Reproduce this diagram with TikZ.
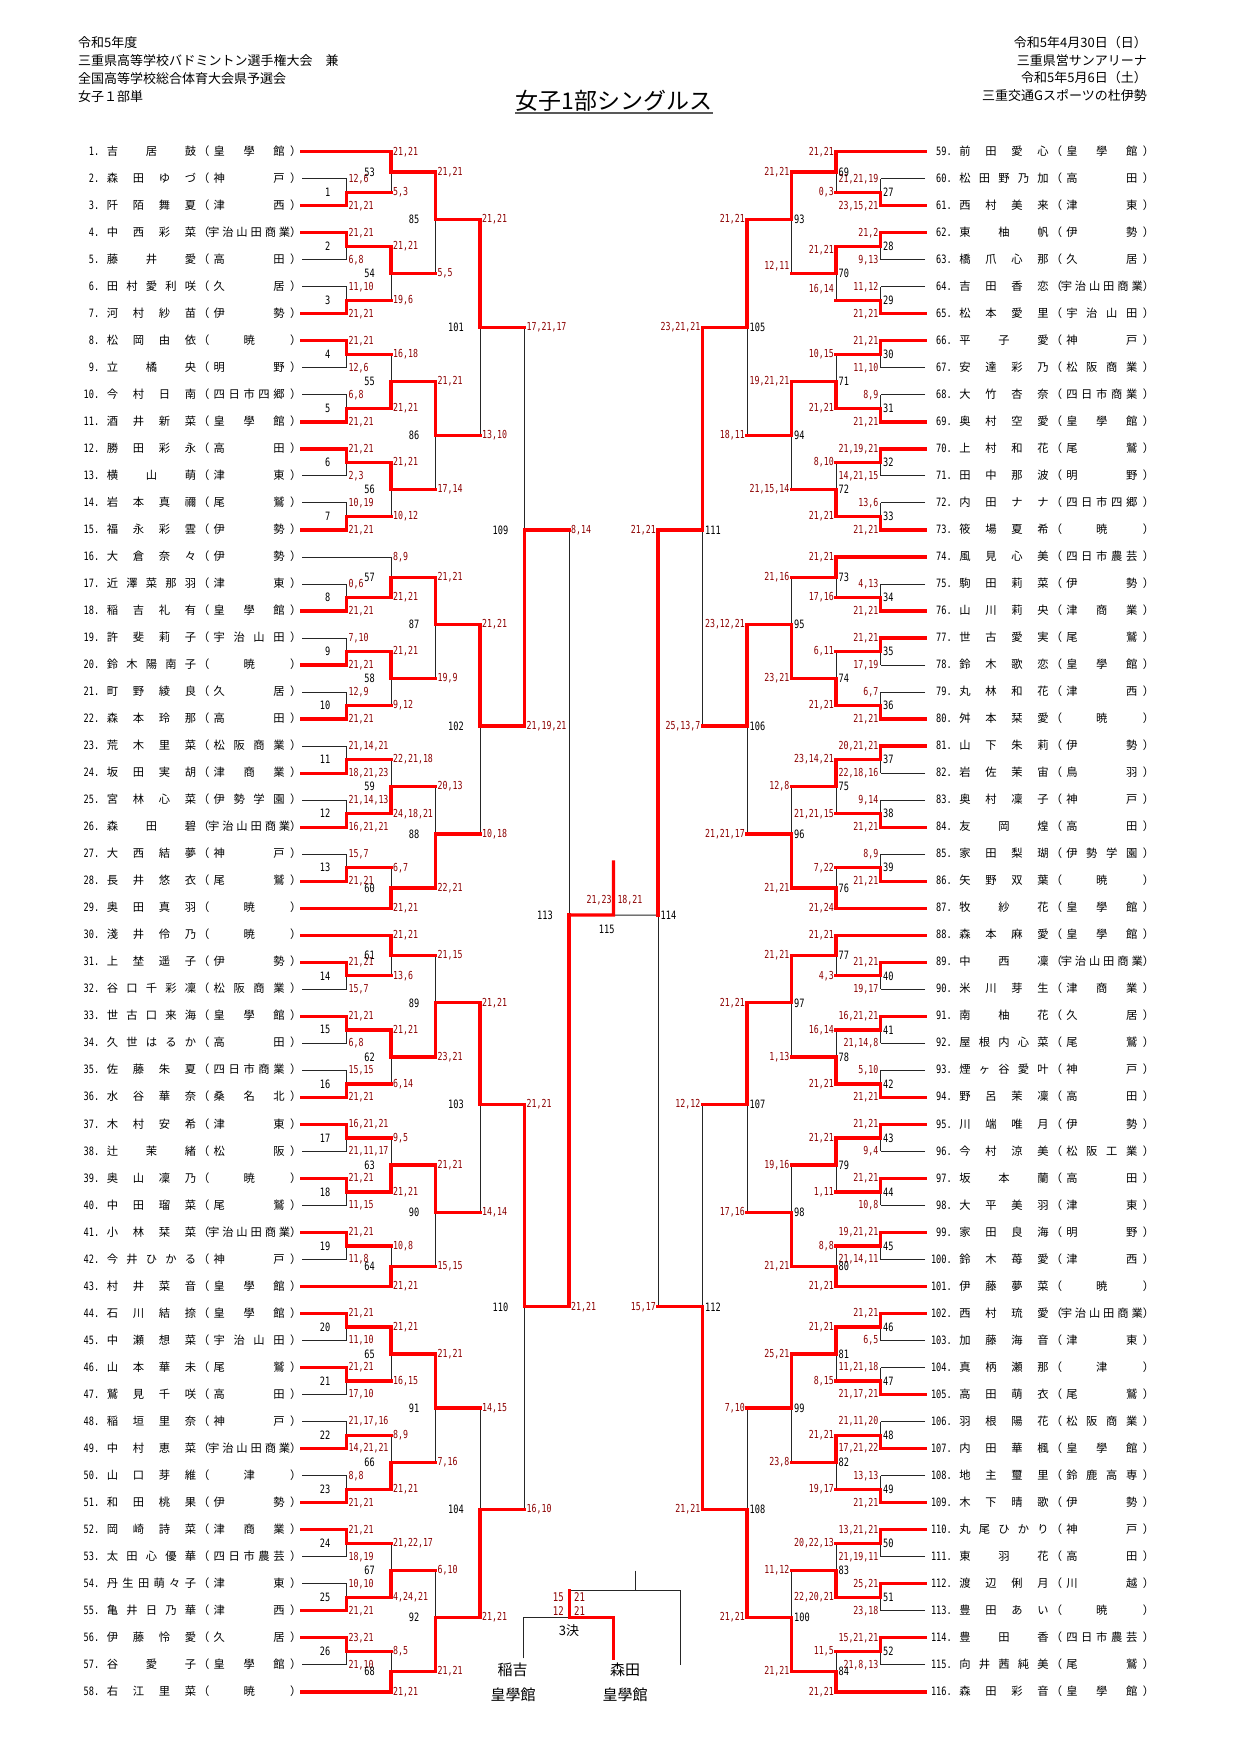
\documentclass[tikz,border=0pt]{standalone}
\usepackage{fontspec}
\newfontfamily\jp{Noto Sans CJK JP}
\newfontfamily\numf[FakeStretch=0.75]{DejaVu Sans Mono}
\pgfdeclarelayer{back}
\pgfdeclarelayer{bg}
\pgfdeclarelayer{fg}
\pgfsetlayers{back,bg,main,fg}
\definecolor{scr}{RGB}{140,0,0}
\definecolor{brk}{RGB}{255,0,0}
\tikzset{
  lnR/.style={draw=brk,line width=3.3pt,line cap=rect,line join=miter},
  lnK/.style={draw=black!85,line width=1pt},
  scL/.style={anchor=west,inner sep=0pt,xshift=2pt,text=scr,font=\numf\fontsize{11}{11}\selectfont},
  scR/.style={anchor=east,inner sep=0pt,xshift=-2pt,text=scr,font=\numf\fontsize{11}{11}\selectfont},
  lbL/.style={anchor=east,inner sep=0pt,xshift=-16pt,font=\numf\fontsize{11.5}{11.5}\selectfont},
  lbR/.style={anchor=west,inner sep=0pt,xshift=2.5pt,font=\numf\fontsize{11.5}{11.5}\selectfont},
  hd/.style={inner sep=0pt,font=\jp\fontsize{13}{13}\selectfont},
  big/.style={inner sep=0pt,font=\jp\fontsize{15}{15}\selectfont},
}
\newcommand\putat[2]{\rlap{\kern#1\relax#2}}
\def\sprsep{\hfil}
\def\spr#1{\sprA#1\endspr}
\def\sprA#1#2\endspr{#1\ifx\relax#2\relax\else\sprsep\sprA#2\endspr\fi}
\newcount\ncc
\def\cntc#1{\ncc=0 \cntA#1\endcnt}
\def\cntA#1#2\endcnt{\advance\ncc by 1 \ifx\relax#2\relax\else\cntA#2\endcnt\fi}
\newcommand\school[1]{\cntc{#1}\ifnum\ncc>5 \putat{122pt}{\hbox to 82pt{\def\sprsep{\hfill}\hfil\spr{#1}\hfil}}\else\putat{127.5pt}{\hbox to 71pt{\def\sprsep{\hfill}\hfil\spr{#1}\hfil}}\fi}
\newcommand\pbox[3]{\jp\fontsize{11.3}{11.3}\selectfont\vrule height 8.5pt depth 2.5pt width 0pt
  \putat{0pt}{\hbox to 13pt{\hss\numf\fontsize{11.5}{11.5}\selectfont #1.}}%
  \putat{20.6pt}{\hbox to 89.3pt{\def\sprsep{\hfil}\spr{#2}}}%
  \putat{112pt}{（}%
  \school{#3}%
  \putat{204pt}{）}%
  \kern215pt\relax}
\newcommand\pl[4]{%
  \if L#2\def\px{302}\def\tx{86}\pgfmathsetmacro\py{151.7+27.02*(#1-1)}\else\def\px{925}\def\tx{938.6}\pgfmathsetmacro\py{151.7+27.02*(#1-59)}\fi
  \coordinate (P#1) at (\px,\py);
  \node[anchor=west,inner sep=0pt] (p#1) at (\tx,\py) {\pbox{#1}{#3}{#4}};
}
\def\sa{0}\def\sb{0}
\def\mtparse#1#2\relax{\def\mtw{#1}\def\mtl{#2}}
\newcommand\mt[9]{%
  \if L#2\pgfmathsetmacro\xv{302+44.5*#3}\else\pgfmathsetmacro\xv{925-44.5*#3}\fi
  \pgfmathsetmacro\yv{151.7+13.51*#4}%
  \coordinate (M#1) at (\xv,\yv);
  \mtparse#7\relax
  \if t\mtw
    \draw[lnR] (#5) -- (#5 -| M#1) -- (M#1);
    \begin{pgfonlayer}{bg}\draw[lnK] (#6 -| M#1) -- (M#1);\end{pgfonlayer}
    \if R\mtl \draw[lnR] (#6) -- (#6 -| M#1);\else\begin{pgfonlayer}{bg}\draw[lnK] (#6) -- (#6 -| M#1);\end{pgfonlayer}\fi
  \else
    \draw[lnR] (#6) -- (#6 -| M#1) -- (M#1);
    \begin{pgfonlayer}{bg}\draw[lnK] (#5 -| M#1) -- (M#1);\end{pgfonlayer}
    \if R\mtl \draw[lnR] (#5) -- (#5 -| M#1);\else\begin{pgfonlayer}{bg}\draw[lnK] (#5) -- (#5 -| M#1);\end{pgfonlayer}\fi
  \fi
  \begin{pgfonlayer}{fg}
    \node[sc#2,yshift=\sa pt] (s#1a) at (#5 -| M#1) {#8};
    \node[sc#2,yshift=\sb pt] (s#1b) at (#6 -| M#1) {#9};
    \node[lb#2] (m#1) at (M#1) {#1};
  \end{pgfonlayer}
  \def\sa{0}\def\sb{0}%
}
\begin{document}
\begin{tikzpicture}[x=1pt,y=-1pt]
\useasboundingbox (0,0) rectangle (1241,1755);
\begin{pgfonlayer}{back}\fill[white] (0,0) rectangle (1241,1755);\end{pgfonlayer}
% header
\node[hd,anchor=west] (hl1) at (78,43) {令和5年度};
\node[hd,anchor=west] (hl2) at (78,61) {三重県高等学校バドミントン選手権大会　兼};
\node[hd,anchor=west] (hl3) at (78,79) {全国高等学校総合体育大会県予選会};
\node[hd,anchor=west] (hl4) at (78,97) {女子１部単};
\node[hd,anchor=east] (hr1) at (1147,43) {令和5年4月30日（日）};
\node[hd,anchor=east] (hr2) at (1147,61) {三重県営サンアリーナ};
\node[hd,anchor=east] (hr3) at (1147,78) {令和5年5月6日（土）};
\node[hd,anchor=east] (hr4) at (1147,96) {三重交通Gスポーツの杜伊勢};
\node[inner sep=0pt,font=\jp\fontsize{23}{23}\selectfont] (title) at (614,101) {女子1部シングルス};
\draw[line width=2pt,black!65] ([yshift=-1pt]title.south west) -- ([yshift=-1pt]title.south east);
% players left
\pl{1}{L}{吉居鼓}{皇學館}
\pl{2}{L}{森田ゆづ}{神戸}
\pl{3}{L}{阡陌舞夏}{津西}
\pl{4}{L}{中西彩菜}{宇治山田商業}
\pl{5}{L}{藤井愛}{高田}
\pl{6}{L}{田村愛利咲}{久居}
\pl{7}{L}{河村紗苗}{伊勢}
\pl{8}{L}{松岡由依}{暁}
\pl{9}{L}{立橘央}{明野}
\pl{10}{L}{今村日南}{四日市四郷}
\pl{11}{L}{酒井新菜}{皇學館}
\pl{12}{L}{勝田彩永}{高田}
\pl{13}{L}{横山萌}{津東}
\pl{14}{L}{岩本真禰}{尾鷲}
\pl{15}{L}{福永彩雲}{伊勢}
\pl{16}{L}{大倉奈々}{伊勢}
\pl{17}{L}{近澤菜那羽}{津東}
\pl{18}{L}{稲吉礼有}{皇學館}
\pl{19}{L}{許斐莉子}{宇治山田}
\pl{20}{L}{鈴木陽南子}{暁}
\pl{21}{L}{町野綾良}{久居}
\pl{22}{L}{森本玲那}{高田}
\pl{23}{L}{荒木里菜}{松阪商業}
\pl{24}{L}{坂田実胡}{津商業}
\pl{25}{L}{宮林心菜}{伊勢学園}
\pl{26}{L}{森田碧}{宇治山田商業}
\pl{27}{L}{大西結夢}{神戸}
\pl{28}{L}{長井悠衣}{尾鷲}
\pl{29}{L}{奥田真羽}{暁}
\pl{30}{L}{淺井伶乃}{暁}
\pl{31}{L}{上埜遥子}{伊勢}
\pl{32}{L}{谷口千彩凜}{松阪商業}
\pl{33}{L}{世古口来海}{皇學館}
\pl{34}{L}{久世はるか}{高田}
\pl{35}{L}{佐藤朱夏}{四日市商業}
\pl{36}{L}{水谷華奈}{桑名北}
\pl{37}{L}{木村安希}{津東}
\pl{38}{L}{辻茉緒}{松阪}
\pl{39}{L}{奥山凜乃}{暁}
\pl{40}{L}{中田瑠菜}{尾鷲}
\pl{41}{L}{小林栞菜}{宇治山田商業}
\pl{42}{L}{今井ひかる}{神戸}
\pl{43}{L}{村井菜音}{皇學館}
\pl{44}{L}{石川結捺}{皇學館}
\pl{45}{L}{中瀬想菜}{宇治山田}
\pl{46}{L}{山本華未}{尾鷲}
\pl{47}{L}{鷲見千咲}{高田}
\pl{48}{L}{稲垣里奈}{神戸}
\pl{49}{L}{中村恵菜}{宇治山田商業}
\pl{50}{L}{山口芽維}{津}
\pl{51}{L}{和田桃果}{伊勢}
\pl{52}{L}{岡崎詩菜}{津商業}
\pl{53}{L}{太田心優華}{四日市農芸}
\pl{54}{L}{丹生田萌々子}{津東}
\pl{55}{L}{亀井日乃華}{津西}
\pl{56}{L}{伊藤怜愛}{久居}
\pl{57}{L}{谷愛子}{皇學館}
\pl{58}{L}{右江里菜}{暁}
% players right
\pl{59}{R}{前田愛心}{皇學館}
\pl{60}{R}{松田野乃加}{高田}
\pl{61}{R}{西村美来}{津東}
\pl{62}{R}{東柚帆}{伊勢}
\pl{63}{R}{橋爪心那}{久居}
\pl{64}{R}{吉田香恋}{宇治山田商業}
\pl{65}{R}{松本愛里}{宇治山田}
\pl{66}{R}{平子愛}{神戸}
\pl{67}{R}{安達彩乃}{松阪商業}
\pl{68}{R}{大竹杏奈}{四日市商業}
\pl{69}{R}{奥村空愛}{皇學館}
\pl{70}{R}{上村和花}{尾鷲}
\pl{71}{R}{田中那波}{明野}
\pl{72}{R}{内田ナナ}{四日市四郷}
\pl{73}{R}{筱場夏希}{暁}
\pl{74}{R}{風見心美}{四日市農芸}
\pl{75}{R}{駒田莉菜}{伊勢}
\pl{76}{R}{山川莉央}{津商業}
\pl{77}{R}{世古愛実}{尾鷲}
\pl{78}{R}{鈴木歌恋}{皇學館}
\pl{79}{R}{丸林和花}{津西}
\pl{80}{R}{舛本栞愛}{暁}
\pl{81}{R}{山下朱莉}{伊勢}
\pl{82}{R}{岩佐茉宙}{鳥羽}
\pl{83}{R}{奥村凜子}{神戸}
\pl{84}{R}{友岡煌}{高田}
\pl{85}{R}{家田梨瑚}{伊勢学園}
\pl{86}{R}{矢野双葉}{暁}
\pl{87}{R}{牧紗花}{皇學館}
\pl{88}{R}{森本麻愛}{皇學館}
\pl{89}{R}{中西凜}{宇治山田商業}
\pl{90}{R}{米川芽生}{津商業}
\pl{91}{R}{南柚花}{久居}
\pl{92}{R}{屋根内心菜}{尾鷲}
\pl{93}{R}{煙ヶ谷愛叶}{神戸}
\pl{94}{R}{野呂茉凜}{高田}
\pl{95}{R}{川端唯月}{伊勢}
\pl{96}{R}{今村涼美}{松阪工業}
\pl{97}{R}{坂本蘭}{高田}
\pl{98}{R}{大平美羽}{津東}
\pl{99}{R}{家田良海}{明野}
\pl{100}{R}{鈴木苺愛}{津西}
\pl{101}{R}{伊藤夢菜}{暁}
\pl{102}{R}{西村琉愛}{宇治山田商業}
\pl{103}{R}{加藤海音}{津東}
\pl{104}{R}{真柄瀬那}{津}
\pl{105}{R}{高田萌衣}{尾鷲}
\pl{106}{R}{羽根陽花}{松阪商業}
\pl{107}{R}{内田華楓}{皇學館}
\pl{108}{R}{地主璽里}{鈴鹿高専}
\pl{109}{R}{木下晴歌}{伊勢}
\pl{110}{R}{丸尾ひかり}{神戸}
\pl{111}{R}{東羽花}{高田}
\pl{112}{R}{渡辺俐月}{川越}
\pl{113}{R}{豊田あい}{暁}
\pl{114}{R}{豊田香}{四日市農芸}
\pl{115}{R}{向井茜純美}{尾鷲}
\pl{116}{R}{森田彩音}{皇學館}
% left round 1
\mt{1}{L}{1}{3}{P2}{P3}{bK}{12,6}{21,21}
\mt{2}{L}{1}{7}{P4}{P5}{tK}{21,21}{6,8}
\mt{3}{L}{1}{11}{P6}{P7}{bK}{11,10}{21,21}
\mt{4}{L}{1}{15}{P8}{P9}{tK}{21,21}{12,6}
\mt{5}{L}{1}{19}{P10}{P11}{bK}{6,8}{21,21}
\mt{6}{L}{1}{23}{P12}{P13}{tK}{21,21}{2,3}
\mt{7}{L}{1}{27}{P14}{P15}{bK}{10,19}{21,21}
\mt{8}{L}{1}{33}{P17}{P18}{bK}{0,6}{21,21}
\mt{9}{L}{1}{37}{P19}{P20}{bK}{7,10}{21,21}
\mt{10}{L}{1}{41}{P21}{P22}{bK}{12,9}{21,21}
\mt{11}{L}{1}{45}{P23}{P24}{bK}{21,14,21}{18,21,23}
\mt{12}{L}{1}{49}{P25}{P26}{bK}{21,14,13}{16,21,21}
\mt{13}{L}{1}{53}{P27}{P28}{bK}{15,7}{21,21}
\mt{14}{L}{1}{61}{P31}{P32}{tK}{21,21}{15,7}
\mt{15}{L}{1}{65}{P33}{P34}{tK}{21,21}{6,8}
\mt{16}{L}{1}{69}{P35}{P36}{bK}{15,15}{21,21}
\mt{17}{L}{1}{73}{P37}{P38}{tK}{16,21,21}{21,11,17}
\mt{18}{L}{1}{77}{P39}{P40}{tK}{21,21}{11,15}
\mt{19}{L}{1}{81}{P41}{P42}{tK}{21,21}{11,8}
\mt{20}{L}{1}{87}{P44}{P45}{tK}{21,21}{11,10}
\mt{21}{L}{1}{91}{P46}{P47}{tK}{21,21}{17,10}
\mt{22}{L}{1}{95}{P48}{P49}{bK}{21,17,16}{14,21,21}
\mt{23}{L}{1}{99}{P50}{P51}{bK}{8,8}{21,21}
\mt{24}{L}{1}{103}{P52}{P53}{tK}{21,21}{18,19}
\mt{25}{L}{1}{107}{P54}{P55}{bK}{10,10}{21,21}
\mt{26}{L}{1}{111}{P56}{P57}{tK}{23,21}{21,10}
% left round 2
\mt{53}{L}{2}{1.5}{P1}{M1}{tR}{21,21}{5,3}
\mt{54}{L}{2}{9}{M2}{M3}{tR}{21,21}{19,6}
\mt{55}{L}{2}{17}{M4}{M5}{bR}{16,18}{21,21}
\mt{56}{L}{2}{25}{M6}{M7}{tR}{21,21}{10,12}
\mt{57}{L}{2}{31.5}{P16}{M8}{bK}{8,9}{21,21}
\mt{58}{L}{2}{39}{M9}{M10}{tR}{21,21}{9,12}
\mt{59}{L}{2}{47}{M11}{M12}{bR}{22,21,18}{24,18,21}
\mt{60}{L}{2}{54.5}{M13}{P29}{bR}{6,7}{21,21}
\mt{61}{L}{2}{59.5}{P30}{M14}{tR}{21,21}{13,6}
\mt{62}{L}{2}{67}{M15}{M16}{tR}{21,21}{6,14}
\mt{63}{L}{2}{75}{M17}{M18}{bR}{9,5}{21,21}
\mt{64}{L}{2}{82.5}{M19}{P43}{bR}{10,8}{21,21}
\mt{65}{L}{2}{89}{M20}{M21}{tR}{21,21}{16,15}
\mt{66}{L}{2}{97}{M22}{M23}{bR}{8,9}{21,21}
\mt{67}{L}{2}{105}{M24}{M25}{bR}{21,22,17}{4,24,21}
\mt{68}{L}{2}{112.5}{M26}{P58}{bR}{8,5}{21,21}
% left round 3
\mt{85}{L}{3}{5}{M53}{M54}{tR}{21,21}{5,5}
\mt{86}{L}{3}{21}{M55}{M56}{tR}{21,21}{17,14}
\mt{87}{L}{3}{35}{M57}{M58}{tR}{21,21}{19,9}
\mt{88}{L}{3}{50.5}{M59}{M60}{bR}{20,13}{22,21}
\mt{89}{L}{3}{63}{M61}{M62}{bR}{21,15}{23,21}
\mt{90}{L}{3}{78.5}{M63}{M64}{tR}{21,21}{15,15}
\mt{91}{L}{3}{93}{M65}{M66}{tR}{21,21}{7,16}
\mt{92}{L}{3}{108.5}{M67}{M68}{bR}{6,10}{21,21}
% left round 4-6
\mt{101}{L}{4}{13}{M85}{M86}{tR}{21,21}{13,10}
\mt{102}{L}{4}{42.5}{M87}{M88}{tR}{21,21}{10,18}
\mt{103}{L}{4}{70.5}{M89}{M90}{tR}{21,21}{14,14}
\mt{104}{L}{4}{100.5}{M91}{M92}{bR}{14,15}{21,21}
\mt{109}{L}{5}{28}{M101}{M102}{bR}{17,21,17}{21,19,21}
\mt{110}{L}{5}{85.5}{M103}{M104}{tR}{21,21}{16,10}
\mt{113}{L}{6}{56.5}{M109}{M110}{bR}{8,14}{21,21}
% right round 1
\mt{27}{R}{1}{3}{P60}{P61}{bK}{21,21,19}{23,15,21}
\mt{28}{R}{1}{7}{P62}{P63}{tK}{21,2}{9,13}
\mt{29}{R}{1}{11}{P64}{P65}{bK}{11,12}{21,21}
\mt{30}{R}{1}{15}{P66}{P67}{tK}{21,21}{11,10}
\mt{31}{R}{1}{19}{P68}{P69}{bK}{8,9}{21,21}
\mt{32}{R}{1}{23}{P70}{P71}{tK}{21,19,21}{14,21,15}
\mt{33}{R}{1}{27}{P72}{P73}{bK}{13,6}{21,21}
\mt{34}{R}{1}{33}{P75}{P76}{bK}{4,13}{21,21}
\mt{35}{R}{1}{37}{P77}{P78}{tK}{21,21}{17,19}
\mt{36}{R}{1}{41}{P79}{P80}{bK}{6,7}{21,21}
\mt{37}{R}{1}{45}{P81}{P82}{tK}{20,21,21}{22,18,16}
\mt{38}{R}{1}{49}{P83}{P84}{bK}{9,14}{21,21}
\mt{39}{R}{1}{53}{P85}{P86}{bK}{8,9}{21,21}
\mt{40}{R}{1}{61}{P89}{P90}{tK}{21,21}{19,17}
\mt{41}{R}{1}{65}{P91}{P92}{tK}{16,21,21}{21,14,8}
\mt{42}{R}{1}{69}{P93}{P94}{bK}{5,10}{21,21}
\mt{43}{R}{1}{73}{P95}{P96}{tK}{21,21}{9,4}
\mt{44}{R}{1}{77}{P97}{P98}{tK}{21,21}{10,8}
\mt{45}{R}{1}{81}{P99}{P100}{tK}{19,21,21}{21,14,11}
\mt{46}{R}{1}{87}{P102}{P103}{tK}{21,21}{6,5}
\mt{47}{R}{1}{91}{P104}{P105}{bK}{11,21,18}{21,17,21}
\mt{48}{R}{1}{95}{P106}{P107}{bK}{21,11,20}{17,21,22}
\mt{49}{R}{1}{99}{P108}{P109}{bK}{13,13}{21,21}
\mt{50}{R}{1}{103}{P110}{P111}{tK}{13,21,21}{21,19,11}
\mt{51}{R}{1}{107}{P112}{P113}{tK}{25,21}{23,18}
\mt{52}{R}{1}{111}{P114}{P115}{tK}{15,21,21}{21,8,13}
% right round 2
\mt{69}{R}{2}{1.5}{P59}{M27}{tR}{21,21}{0,3}
\def\sa{-4}\def\sb{11}
\mt{70}{R}{2}{9}{M28}{M29}{tR}{21,21}{16,14}
\mt{71}{R}{2}{17}{M30}{M31}{bR}{10,15}{21,21}
\mt{72}{R}{2}{25}{M32}{M33}{bR}{8,10}{21,21}
\mt{73}{R}{2}{31.5}{P74}{M34}{tR}{21,21}{17,16}
\mt{74}{R}{2}{39}{M35}{M36}{bR}{6,11}{21,21}
\mt{75}{R}{2}{47}{M37}{M38}{tR}{23,14,21}{21,21,15}
\mt{76}{R}{2}{54.5}{M39}{P87}{bR}{7,22}{21,24}
\mt{77}{R}{2}{59.5}{P88}{M40}{tR}{21,21}{4,3}
\mt{78}{R}{2}{67}{M41}{M42}{bR}{16,14}{21,21}
\mt{79}{R}{2}{75}{M43}{M44}{tR}{21,21}{1,11}
\mt{80}{R}{2}{82.5}{M45}{P101}{bR}{8,8}{21,21}
\mt{81}{R}{2}{89}{M46}{M47}{tR}{21,21}{8,15}
\mt{82}{R}{2}{97}{M48}{M49}{tR}{21,21}{19,17}
\mt{83}{R}{2}{105}{M50}{M51}{bR}{20,22,13}{22,20,21}
\mt{84}{R}{2}{112.5}{M52}{P116}{bR}{11,5}{21,21}
% right round 3
\def\sb{7}
\mt{93}{R}{3}{5}{M69}{M70}{tR}{21,21}{12,11}
\mt{94}{R}{3}{21}{M71}{M72}{tR}{19,21,21}{21,15,14}
\mt{95}{R}{3}{35}{M73}{M74}{bR}{21,16}{23,21}
\mt{96}{R}{3}{50.5}{M75}{M76}{bR}{12,8}{21,21}
\mt{97}{R}{3}{63}{M77}{M78}{tR}{21,21}{1,13}
\mt{98}{R}{3}{78.5}{M79}{M80}{bR}{19,16}{21,21}
\mt{99}{R}{3}{93}{M81}{M82}{tR}{25,21}{23,8}
\mt{100}{R}{3}{108.5}{M83}{M84}{bR}{11,12}{21,21}
% right round 4-6
\mt{105}{R}{4}{13}{M93}{M94}{tR}{21,21}{18,11}
\mt{106}{R}{4}{42.5}{M95}{M96}{tR}{23,12,21}{21,21,17}
\mt{107}{R}{4}{70.5}{M97}{M98}{tR}{21,21}{17,16}
\mt{108}{R}{4}{100.5}{M99}{M100}{bR}{7,10}{21,21}
\mt{111}{R}{5}{28}{M105}{M106}{tR}{23,21,21}{25,13,7}
\mt{112}{R}{5}{85.5}{M107}{M108}{bR}{12,12}{21,21}
\mt{114}{R}{6}{56.5}{M111}{M112}{tR}{21,21}{15,17}
% final
\coordinate (F) at (613.5,915.0);
\coordinate (Ft) at (613.5,862);
\begin{pgfonlayer}{bg}\draw[lnK] (M114) -- (F);\end{pgfonlayer}
\draw[lnR] (M113) -- (F) -- (Ft);
\node[anchor=south east,inner sep=0pt,text=scr,font=\numf\fontsize{11}{11}\selectfont] (s115a) at ([xshift=-1.8pt,yshift=10pt]F) {21,23};
\node[anchor=south west,inner sep=0pt,text=scr,font=\numf\fontsize{11}{11}\selectfont] (s115b) at ([xshift=3.8pt,yshift=10pt]F) {18,21};
\node[inner sep=0pt,font=\numf\fontsize{11.5}{11.5}\selectfont] (m115) at (606.7,929.5) {115};
% third place
\coordinate (T1) at (523.3,1617.3);
\coordinate (T1b) at (523.3,1658.3);
\coordinate (T2) at (569.3,1617.3);
\coordinate (T3) at (613.3,1617.3);
\coordinate (T3b) at (613.3,1658.3);
\coordinate (T4) at (569.3,1590.7);
\coordinate (T5) at (680,1590.7);
\coordinate (T5b) at (680,1665);
\coordinate (T6) at (635.3,1590.7);
\coordinate (T6t) at (635.3,1570.7);
\begin{pgfonlayer}{bg}
\draw[lnK] (T1b) -- (T1) -- (T2);
\draw[lnK] (T4) -- (T5) -- (T5b);
\draw[lnK] (T6t) -- (T6);
\end{pgfonlayer}
\draw[lnR] (T3b) -- (T3) -- (T2) -- (T4);
\node[anchor=east,inner sep=0pt,text=scr,font=\numf\fontsize{12}{12}\selectfont] (t3a) at (564,1597.5) {15};
\node[anchor=east,inner sep=0pt,text=scr,font=\numf\fontsize{12}{12}\selectfont] (t3b) at (564,1611) {12};
\node[anchor=west,inner sep=0pt,text=scr,font=\numf\fontsize{12}{12}\selectfont] (t3c) at (574,1597.5) {21};
\node[anchor=west,inner sep=0pt,text=scr,font=\numf\fontsize{12}{12}\selectfont] (t3d) at (574,1611) {21};
\node[inner sep=0pt,font=\jp\fontsize{13}{13}\selectfont] (t3l) at (569,1631) {3決};
\node[big] (n3a) at (512.5,1670) {稲吉};
\node[big] (n3b) at (513,1694.5) {皇學館};
\node[big] (n3c) at (625,1670) {森田};
\node[big] (n3d) at (625,1694.5) {皇學館};
\end{tikzpicture}
\end{document}
